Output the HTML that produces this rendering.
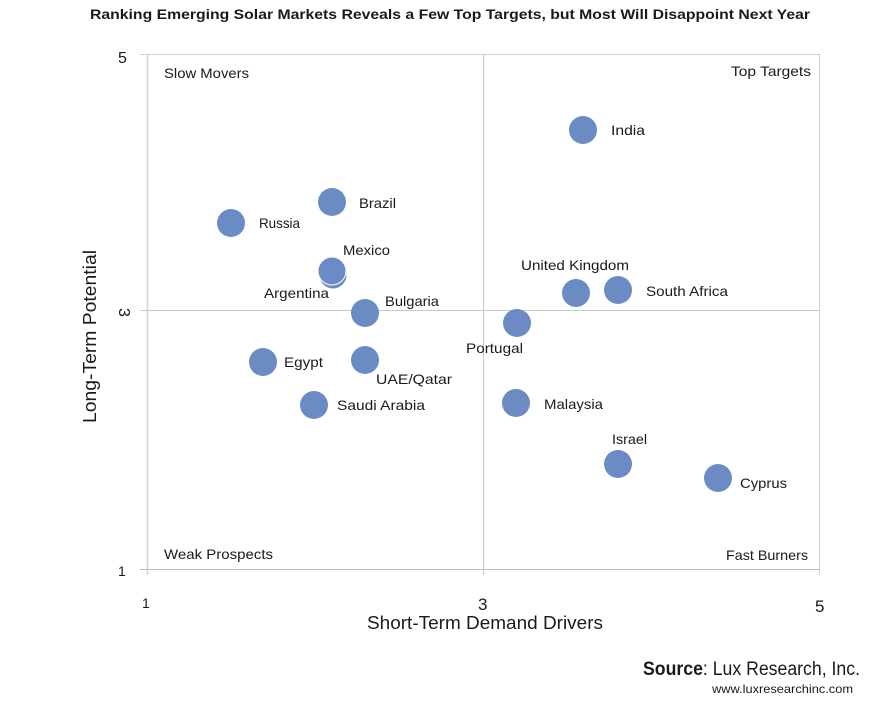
<!DOCTYPE html>
<html>
<head>
<meta charset="utf-8">
<style>
  html,body{margin:0;padding:0;background:#fff;}
  svg{display:block;}
  text{font-family:"Liberation Sans",sans-serif;fill:#1a1a1a;}
</style>
</head>
<body>
<svg width="873" height="703" viewBox="0 0 873 703" xmlns="http://www.w3.org/2000/svg">
  <!-- Title -->
  <text x="90" y="19" font-size="14" font-weight="bold" textLength="720" lengthAdjust="spacingAndGlyphs" fill="#111">Ranking Emerging Solar Markets Reveals a Few Top Targets, but Most Will Disappoint Next Year</text>

  <!-- Frame -->
  <line x1="140" y1="54.5" x2="820" y2="54.5" stroke="#cfcfcf" stroke-width="1"/>
  <line x1="147.5" y1="54" x2="147.5" y2="575" stroke="#d6d6d6" stroke-width="1.5"/>
  <line x1="819.5" y1="54" x2="819.5" y2="575" stroke="#cfcfcf" stroke-width="1"/>
  <line x1="140" y1="569.5" x2="820" y2="569.5" stroke="#bdbdbd" stroke-width="1"/>
  <!-- midlines -->
  <line x1="140" y1="310.5" x2="820" y2="310.5" stroke="#c8c8c8" stroke-width="1"/>
  <line x1="483.5" y1="54" x2="483.5" y2="575" stroke="#c8c8c8" stroke-width="1"/>

  <!-- Y tick labels -->
  <text x="118" y="63" font-size="16">5</text>
  <text x="0" y="0" font-size="16" transform="translate(119,308) rotate(90)">3</text>
  <text x="118" y="576" font-size="14" font-family="Liberation Mono, monospace">1</text>

  <!-- X tick labels -->
  <text x="142" y="608" font-size="14" font-family="Liberation Mono, monospace">1</text>
  <text x="478" y="610" font-size="17">3</text>
  <text x="815" y="612" font-size="17">5</text>

  <!-- Axis titles -->
  <text x="367" y="629" font-size="18" textLength="236" lengthAdjust="spacingAndGlyphs">Short-Term Demand Drivers</text>
  <text x="0" y="0" font-size="18" textLength="173" lengthAdjust="spacingAndGlyphs" transform="translate(96,423) rotate(-90)">Long-Term Potential</text>

  <!-- Quadrant labels -->
  <text x="164" y="78" font-size="14" textLength="85" lengthAdjust="spacingAndGlyphs">Slow Movers</text>
  <text x="731" y="76" font-size="14" textLength="80" lengthAdjust="spacingAndGlyphs">Top Targets</text>
  <text x="164" y="559" font-size="14" textLength="109" lengthAdjust="spacingAndGlyphs">Weak Prospects</text>
  <text x="726" y="560" font-size="14" textLength="82" lengthAdjust="spacingAndGlyphs">Fast Burners</text>

  <!-- Points -->
  <g fill="#6a8bc3">
    <circle cx="583" cy="130" r="14"/>
    <circle cx="332" cy="202" r="14"/>
    <circle cx="231" cy="223" r="14"/>
    <circle cx="333" cy="275" r="14" stroke="#ffffff" stroke-width="1"/>
    <circle cx="332" cy="271" r="14" stroke="#ffffff" stroke-width="1"/>
    <circle cx="365" cy="313" r="14"/>
    <circle cx="576" cy="293" r="14"/>
    <circle cx="618" cy="290" r="14"/>
    <circle cx="517" cy="323" r="14"/>
    <circle cx="263" cy="362" r="14"/>
    <circle cx="365" cy="360" r="14"/>
    <circle cx="314" cy="405" r="14"/>
    <circle cx="516" cy="403" r="14"/>
    <circle cx="618" cy="464" r="14"/>
    <circle cx="718" cy="478" r="14"/>
  </g>

  <!-- Point labels -->
  <g font-size="14">
    <text x="611" y="135" textLength="34" lengthAdjust="spacingAndGlyphs">India</text>
    <text x="359" y="208" textLength="37" lengthAdjust="spacingAndGlyphs">Brazil</text>
    <text x="259" y="228" textLength="41" lengthAdjust="spacingAndGlyphs">Russia</text>
    <text x="343" y="255" textLength="47" lengthAdjust="spacingAndGlyphs">Mexico</text>
    <text x="264" y="298" textLength="65" lengthAdjust="spacingAndGlyphs">Argentina</text>
    <text x="385" y="306" textLength="54" lengthAdjust="spacingAndGlyphs">Bulgaria</text>
    <text x="521" y="270" textLength="108" lengthAdjust="spacingAndGlyphs">United Kingdom</text>
    <text x="646" y="296" textLength="82" lengthAdjust="spacingAndGlyphs">South Africa</text>
    <text x="466" y="353" textLength="57" lengthAdjust="spacingAndGlyphs">Portugal</text>
    <text x="284" y="367" textLength="39" lengthAdjust="spacingAndGlyphs">Egypt</text>
    <text x="376" y="384" textLength="76" lengthAdjust="spacingAndGlyphs">UAE/Qatar</text>
    <text x="337" y="410" textLength="88" lengthAdjust="spacingAndGlyphs">Saudi Arabia</text>
    <text x="544" y="409" textLength="59" lengthAdjust="spacingAndGlyphs">Malaysia</text>
    <text x="612" y="444" textLength="35" lengthAdjust="spacingAndGlyphs">Israel</text>
    <text x="740" y="488" textLength="47" lengthAdjust="spacingAndGlyphs">Cyprus</text>
  </g>

  <!-- Source -->
  <text x="643" y="675" font-size="19" fill="#111" textLength="217" lengthAdjust="spacingAndGlyphs"><tspan font-weight="bold">Source</tspan>: Lux Research, Inc.</text>
  <text x="712" y="693" font-size="12" textLength="141" lengthAdjust="spacingAndGlyphs" fill="#222">www.luxresearchinc.com</text>
</svg>
</body>
</html>
